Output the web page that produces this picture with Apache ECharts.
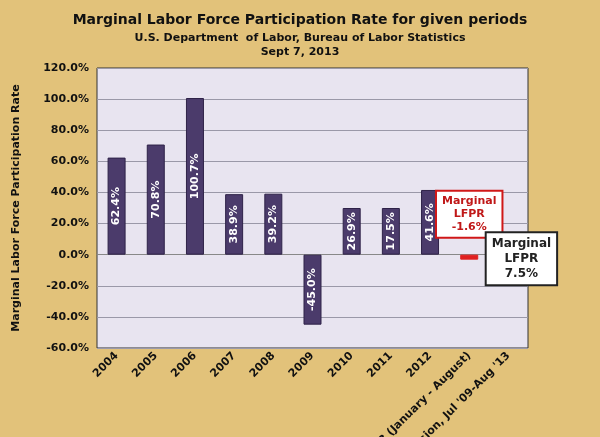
<!DOCTYPE html>
<html>
<head>
<meta charset="utf-8">
<script src="https://cdn.jsdelivr.net/npm/echarts@6/dist/echarts.min.js"></script>
<style>
  html, body { margin: 0; padding: 0; }
  #chart { width: 600px; height: 437px; background: #e2c27a; }
</style>
</head>
<body>
<div id="chart"></div>
<script>
// categories along the x axis
const categories = ['2004', '2005', '2006', '2007', '2008', '2009', '2010', '2011', '2012',
  '2013 (January - August)', "End of Recession, Jul '09-Aug '13"];
// bar heights as drawn in the picture
const barValues = [62.4, 70.8, 100.7, 38.9, 39.2, -45.0, 30, 30, 41.6, -1.6, 7.5];
// the printed label of each bar
const barLabels = ['62.4%', '70.8%', '100.7%', '38.9%', '39.2%', '-45.0%', '26.9%', '17.5%', '41.6%', '-1.6%', '7.5%'];
const yTicks = [-60, -40, -20, 0, 20, 40, 60, 80, 100, 120];

const chart = echarts.init(document.getElementById('chart'));

const data = barValues.map((v, i) => {
  const item = { value: v };
  if (i === 9) {
    item.itemStyle = { color: '#e02020', borderColor: '#e02020' };
    item.label = {
      show: true, position: 'top', distance: 18,
      formatter: 'Marginal\nLFPR\n' + barLabels[i], rotate: 0,
      color: '#c01818', backgroundColor: '#fff', borderColor: '#d01818', borderWidth: 2,
      padding: [3, 5], fontSize: 11, fontWeight: 'bold', lineHeight: 13, align: 'center'
    };
  } else if (i === 10) {
    item.label = {
      show: true, position: 'right', distance: 4,
      formatter: 'Marginal\nLFPR\n' + barLabels[i], rotate: 0,
      color: '#222', backgroundColor: '#fff', borderColor: '#222', borderWidth: 2,
      padding: [3, 5], fontSize: 12, fontWeight: 'bold', lineHeight: 15, align: 'center',
      offset: [0, 10]
    };
  }
  return item;
});

chart.setOption({
  animation: false,
  title: {
    left: 'center', top: 8, itemGap: 4,
    text: 'Marginal Labor Force Participation Rate for given periods',
    subtext: 'U.S. Department  of Labor, Bureau of Labor Statistics\nSept 7, 2013',
    textStyle: { fontFamily: 'DejaVu Sans', fontSize: 14, fontWeight: 'bold', color: '#111' },
    subtextStyle: { fontFamily: 'DejaVu Sans', fontSize: 11, fontWeight: 'bold', color: '#111', lineHeight: 14 }
  },
  grid: {
    left: 97, right: 72, top: 68, bottom: 89, outerBoundsMode: 'none', containLabel: false,
    backgroundColor: '#e8e4f0', show: true, borderColor: '#333', borderWidth: 1
  },
  xAxis: {
    type: 'category', data: categories,
    axisLine: { onZero: true, lineStyle: { color: '#888' } },
    axisTick: { show: false },
    axisLabel: {
      interval: 0, rotate: 45, color: '#111', fontWeight: 'bold', fontSize: 11,
      fontFamily: 'DejaVu Sans', margin: 6
    }
  },
  yAxis: {
    type: 'value', min: -60, max: 120, interval: 20,
    name: 'Marginal Labor Force Participation Rate', nameLocation: 'middle', nameGap: 75,
    nameTextStyle: { fontFamily: 'DejaVu Sans', fontWeight: 'bold', fontSize: 11, color: '#111' },
    axisLine: { show: false }, axisTick: { show: false },
    axisLabel: {
      color: '#111', fontWeight: 'bold', fontSize: 11, fontFamily: 'DejaVu Sans',
      formatter: v => yTicks.includes(v) ? v.toFixed(1) + '%' : ''
    },
    splitLine: { lineStyle: { color: '#9a98a8' } }
  },
  series: [{
    type: 'bar', data: data, barWidth: 18, barMinHeight: 5,
    itemStyle: { color: '#4b3b6b', borderColor: '#2e2248', borderWidth: 1 },
    label: {
      show: true, position: 'inside', rotate: 90, color: '#fff', fontWeight: 'bold', fontSize: 11,
      fontFamily: 'DejaVu Sans',
      formatter: p => barLabels[p.dataIndex]
    }
  }]
});
</script>
</body>
</html>
